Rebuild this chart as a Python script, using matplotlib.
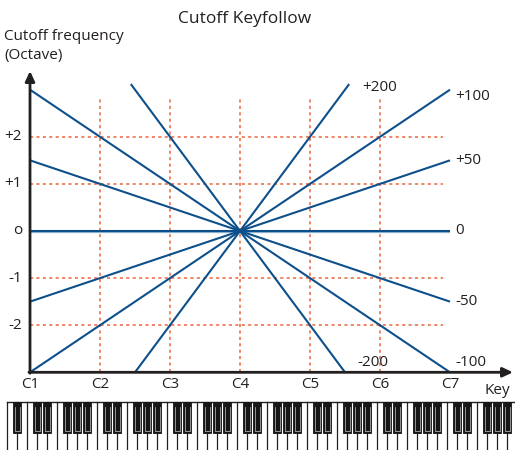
import numpy as np
import matplotlib
matplotlib.use("Agg")
import matplotlib.pyplot as plt
from matplotlib.patches import Rectangle
import matplotlib.transforms as mtransforms

# ---------------- data ----------------
keyfollow = [200, 100, 50, 0, -50, -100, -200]          # line values (%)
keyfollow_labels = ["+200", "+100", "+50", "0", "-50", "-100", "-200"]
octave_ticks = [1, 2, 3, 4, 5, 6, 7]
octave_labels = ["C1", "C2", "C3", "C4", "C5", "C6", "C7"]
y_ticks = [2, 1, 0, -1, -2]
y_tick_labels = ["+2", "+1", "o", "-1", "-2"]
pivot_octave = 4            # C4
y_min, y_max = -3, 3.12     # drawing range of the cutoff axis

# ---------------- style ----------------
BLUE = "#0d4f8b"
LIGHTBLUE = "#8fb3d4"
GRID = "#e8643c"
AXC = "#231f20"
FS = 11
plt.rcParams['font.family'] = ['Open Sans', 'DejaVu Sans']

W, H = 515, 450
fig = plt.figure(figsize=(W / 100, H / 100), dpi=100)
ax = fig.add_axes([0, 0, 1, 1])
ax.axis('off')

# pixel -> data helpers (layout only)
X0PX, XSCALE = 30, 70.0
Y0PX, YSCALE = 231, 47.1
def px(x):
    return 1 + (x - X0PX) / XSCALE
def py(y):
    return (Y0PX - y) / YSCALE

ax.set_xlim(px(0), px(W))
ax.set_ylim(py(H), py(0))

# ---------------- grid ----------------
for xv in octave_ticks[1:-1]:
    ax.plot([xv, xv], [y_min, py(98)], color=GRID, lw=1.1,
            dashes=(2, 2.2), zorder=1)
for yv in y_ticks:
    if yv == 0:
        continue
    ax.plot([1, px(443)], [yv, yv], color=GRID, lw=1.1,
            dashes=(2, 2.2), zorder=1)

# ---------------- keyfollow lines ----------------
for k, lab in zip(keyfollow, keyfollow_labels):
    s = k / 100.0
    if s == 0:
        xs = np.array([1.0, 7.0])
        ys = np.zeros(2)
        off = mtransforms.offset_copy(ax.transData, fig=fig, y=-1.2, units='dots')
        ax.plot(xs, ys, color=LIGHTBLUE, lw=1.6, transform=off, zorder=2,
                solid_capstyle='butt')
        ax.plot(xs, ys, color=BLUE, lw=1.5, zorder=3, solid_capstyle='butt')
        x_hi, y_hi = 7.0, 0.0
    else:
        lo = y_min if s > 0 else y_max
        hi = y_max if s > 0 else y_min
        x_lo = max(1.0, pivot_octave + lo / s)
        x_hi = min(7.0, pivot_octave + hi / s)
        xs = np.array([x_lo, x_hi])
        ys = s * (xs - pivot_octave)
        ax.plot(xs, ys, color=BLUE, lw=1.5, zorder=3, solid_capstyle='butt')
        y_hi = ys[-1]
    pad = 0.075 if x_hi >= 7.0 else 0.18
    yl = float(np.clip(y_hi, -2.8, 3.05 if x_hi < 7.0 else 2.85))
    ax.text(x_hi + pad, yl, lab, fontsize=FS, color=AXC, ha='left',
            va='center', zorder=4)

# ---------------- axes with arrows ----------------
ax.annotate("", xy=(1, py(71)), xytext=(1, y_min - 0.02),
            arrowprops=dict(arrowstyle='-|>,head_length=0.6,head_width=0.28',
                            color=AXC, lw=2, shrinkA=0, shrinkB=0), zorder=5)
ax.annotate("", xy=(px(513), y_min), xytext=(1 - 0.015, y_min),
            arrowprops=dict(arrowstyle='-|>,head_length=0.6,head_width=0.28',
                            color=AXC, lw=2, shrinkA=0, shrinkB=0), zorder=5)

for yv, lab in zip(y_ticks, y_tick_labels):
    ax.text(px(22), yv, lab, fontsize=FS, color=AXC, ha='right', va='center')
for xv, lab in zip(octave_ticks, octave_labels):
    ax.text(xv, py(384), lab, fontsize=FS, color=AXC, ha='center', va='center')
ax.text(px(497), py(391), "Key", fontsize=FS, color=AXC, ha='center', va='center')

ax.text(px(245), py(19), "Cutoff Keyfollow", fontsize=12.5, color=AXC,
        ha='center', va='center')
ax.text(px(4), py(29), "Cutoff frequency\n(Octave)", fontsize=FS, color=AXC,
        ha='left', va='top', linespacing=1.33)

# ---------------- keyboard ----------------
wk = 1 / 7.0
kb_top, kb_black, kb_bot = py(402), py(433), py(H) - 0.1
c_shift = -0.04
white_offsets = np.arange(7)
black_after = [0, 1, 3, 4, 5]   # black key sits after these white keys (C#, D#, F#, G#, A#)
bw = 0.8 * wk

lefts = []
for octv in range(0, 8):
    for wo in white_offsets:
        left = octv + c_shift + wo * wk
        if octv == 0 and wo < 5:
            continue
        lefts.append(left)
lefts = np.array(lefts)
for l in lefts:
    ax.plot([l, l], [kb_top, kb_bot], color=AXC, lw=0.9, zorder=6)
ax.plot([lefts[0], px(W)], [kb_top, kb_top], color=AXC, lw=1.0, zorder=6)

for octv in range(0, 8):
    for bo in black_after:
        if octv == 0 and bo < 5:
            continue
        cx = octv + c_shift + (bo + 1) * wk
        ax.add_patch(Rectangle((cx - bw / 2, kb_black), bw, kb_top - kb_black,
                               facecolor="#161616", edgecolor="#161616",
                               lw=0.6, zorder=7))
        ix = bw * 0.25
        iy = 0.045
        ax.plot([cx - bw / 2 + ix, cx - bw / 2 + ix, cx + bw / 2 - ix * 0.7,
                 cx + bw / 2 - ix * 0.7],
                [kb_top - 0.1, kb_black + iy, kb_black + iy, kb_top - 0.1],
                color="#c8c8c8", lw=0.5, zorder=8)

fig.savefig("out.png", dpi=100)
